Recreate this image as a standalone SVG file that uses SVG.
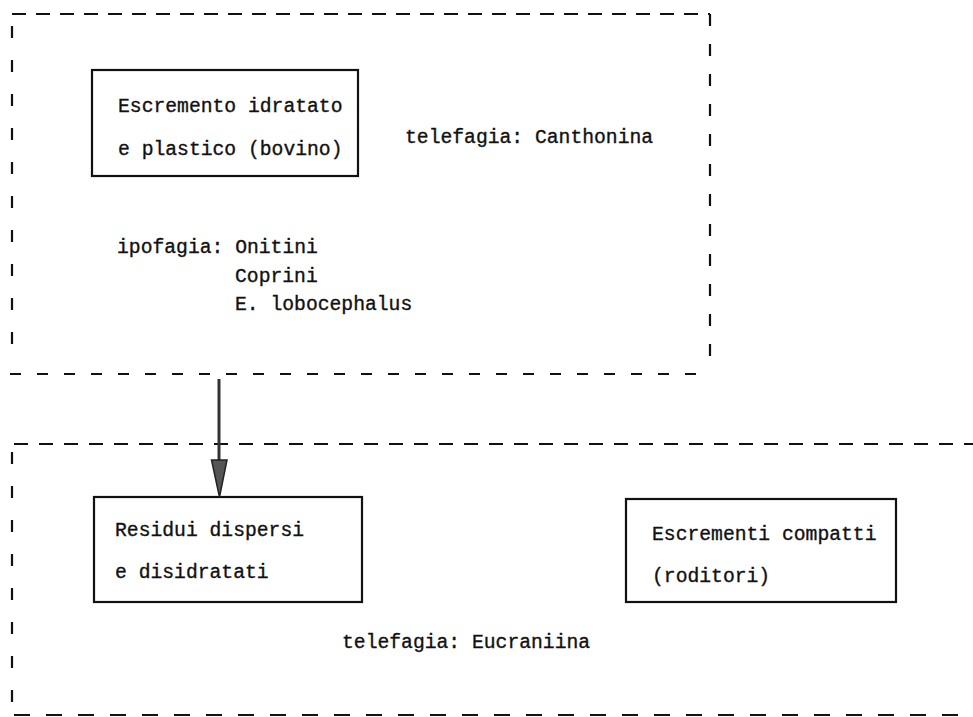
<svg xmlns="http://www.w3.org/2000/svg" width="973" height="717" viewBox="0 0 973 717">
<style>
.t{font-family:"Liberation Mono","Courier New",monospace;font-size:19.7px;fill:#111;stroke:#111;stroke-width:0.35}
.box{fill:#fff;stroke:#111;stroke-width:2.2}
.dash{stroke:#111;stroke-width:2.2;fill:none}
</style>
<rect width="973" height="717" fill="#fff"/>
<g id="region-top">
<line class="dash" x1="12" y1="14" x2="710" y2="14" stroke-dasharray="14 10"/>
<line class="dash" x1="710" y1="14" x2="710" y2="374" stroke-dasharray="12 18"/>
<line class="dash" x1="10" y1="374" x2="710" y2="374" stroke-dasharray="11 16"/>
<line class="dash" x1="12" y1="26" x2="12" y2="362" stroke-dasharray="12 22"/>
</g>
<g id="region-bottom">
<line class="dash" x1="14" y1="444" x2="973" y2="444" stroke-dasharray="14 11"/>
<line class="dash" x1="12" y1="452" x2="12" y2="716" stroke-dasharray="12 22"/>
<line class="dash" x1="14" y1="715" x2="973" y2="715" stroke-dasharray="16 16" stroke-width="3"/>
</g>
<g id="node-escremento-idratato">
<rect class="box" x="92" y="70" width="266" height="106"/>
<text class="t" x="118" y="112">Escremento idratato</text>
<text class="t" x="118" y="155">e plastico (bovino)</text>
</g>
<g id="label-telefagia-canthonina">
<text class="t" x="405" y="143">telefagia: Canthonina</text>
</g>
<g id="label-ipofagia">
<text class="t" x="117" y="253">ipofagia: Onitini</text>
<text class="t" x="235" y="282">Coprini</text>
<text class="t" x="235" y="310">E. lobocephalus</text>
</g>
<g id="node-residui">
<rect class="box" x="94" y="497" width="268" height="105"/>
<text class="t" x="115" y="536">Residui dispersi</text>
<text class="t" x="115" y="578">e disidratati</text>
</g>
<g id="node-escrementi-compatti">
<rect class="box" x="626" y="499" width="270" height="103"/>
<text class="t" x="652" y="540">Escrementi compatti</text>
<text class="t" x="652" y="582">(roditori)</text>
</g>
<g id="label-telefagia-eucraniina">
<text class="t" x="342" y="648">telefagia: Eucraniina</text>
</g>
<g id="connectors">
<line x1="219" y1="379" x2="219" y2="462" stroke="#333" stroke-width="3"/>
<polygon points="211.5,460 227,460 219.5,497" fill="#555" stroke="#222" stroke-width="1.5"/>
</g>
</svg>
